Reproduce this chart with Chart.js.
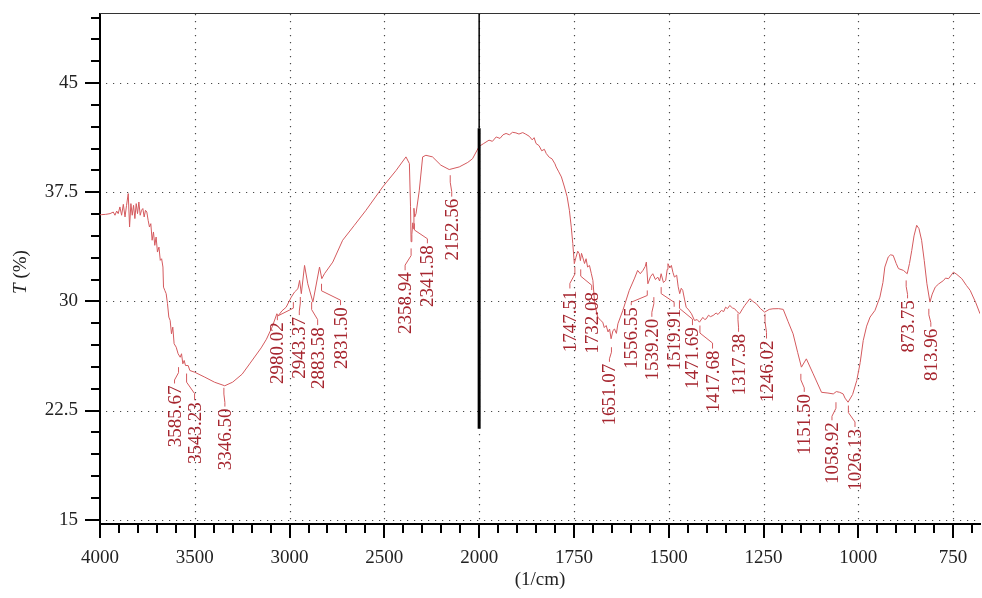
<!DOCTYPE html>
<html><head><meta charset="utf-8">
<script src="https://cdn.jsdelivr.net/npm/chart.js@4.4.0/dist/chart.umd.min.js"></script>
<style>html,body{margin:0;padding:0;background:#fff;}#wrap{width:982px;height:598px;}</style>
</head><body><div id="wrap"><canvas id="c" width="982" height="598"></canvas></div>
<script>
// ---------- data ----------
const wavenumbers = [
4000,3991,3970,3947,3930,3921,3912,3904,3895,3886,3877,3868,3860,3851,3844,3837,3830,3823,3816,3809,
3802,3795,3788,3781,3774,3767,3760,3753,3746,3739,3732,3725,3718,3711,3704,3697,3689,3682,3675,3668,
3665,3658,3651,3644,3637,3630,3623,3616,3609,3598,3588,3577,3570,3563,3556,3549,3535,3526,3500,3447,
3395,3342,3300,3250,3211,3150,3122,3090,3067,3061,3040,3018,2991,2974,2956,2947,2938,2921,2904,2877,
2842,2830,2816,2772,2720,2660,2597,2509,2438,2386,2368,2362,2359,2355,2350,2347,2344,2340,2333,2316,
2298,2281,2246,2202,2158,2105,2060,2035,2000,
1988,1974,1965,1955,1945,1937,1929,1920,1912,1903,1895,1885,1877,1868,1860,1855,1850,1842,1835,1828,
1823,1815,1808,1800,1797,1790,1783,1775,1768,1762,1757,1753,1749,1745,1740,1736,1733,1730,1727,1722,
1718,1714,1709,1704,1700,1696,1690,1687,1680,1674,1670,1665,1660,1656,1652,1647,1643,1638,1634,1621,
1604,1590,1582,1575,1568,1562,1559,1555,1548,1542,1535,1529,1524,1520,1514,1508,1504,1502,1497,1493,
1489,1485,1479,1475,1471,1467,1463,1458,1454,1447,1440,1432,1425,1419,1410,1405,1401,1395,1390,1383,
1375,1370,1361,1355,1350,1345,1339,1332,1326,1320,1313,1305,1300,1286,1278,1269,1258,1247,1235,1225,
1210,1198,1185,1172,1160,1150,1137,1119,1097,1080,1066,1058,1049,1040,1035,1027,1015,1004,995,987,
978,969,956,943,935,930,921,915,908,900,894,881,871,865,859,853,846,840,833,826,
819,811,805,797,788,775,770,762,755,749,740,727,715,705,690,679];
const transmittance = [
35.95,35.96,35.98,36.03,36.14,35.92,36.21,36.03,36.49,35.92,36.67,35.8,36.6,37.41,35.11,36.72,35.92,36.6,35.69,36.72,
36.03,36.83,35.92,36.26,36.38,35.8,36.26,36.14,35.57,35.11,35.34,34.2,34.77,33.85,34.42,33.39,33.73,32.82,32.93,32.36,
30.98,30.75,30.53,29.84,28.92,28.69,27.77,28.23,27.09,26.85,26.4,26.16,26.4,25.71,25.94,25.59,25.59,25.25,25.13,24.79,
24.44,24.2,24.45,25.0,25.7,26.8,27.4,28.3,29.15,29.0,29.35,29.6,30.29,30.64,30.87,31.44,30.53,32.47,31.21,29.95,
32.36,31.56,31.9,32.7,34.2,35.2,36.26,37.86,39.0,39.93,39.47,36.5,34.1,34.6,35.4,35.0,36.4,35.8,36.03,37.6,
39.93,40.04,39.93,39.36,39.06,39.24,39.55,39.8,40.65,
40.85,41.08,41.0,41.3,41.2,41.45,41.54,41.45,41.62,41.58,41.5,41.6,41.49,41.35,41.1,41.25,40.85,40.7,40.35,40.45,
40.16,39.9,39.8,39.45,39.24,38.9,38.55,37.86,37.2,36.26,35.1,33.97,32.59,33.0,33.45,33.28,32.8,33.3,33.05,32.6,
32.93,32.36,32.47,31.9,31.44,30.07,29.2,28.92,28.7,28.57,28.2,28.34,27.9,28.1,27.43,28.0,28.1,27.8,28.46,29.38,
30.76,31.6,32.13,31.9,32.13,32.4,32.7,31.21,31.7,31.9,31.5,31.67,31.4,31.9,31.3,31.44,32.2,32.59,32.3,32.47,
32.0,31.67,31.8,31.0,30.53,30.9,30.76,30.1,29.6,29.4,29.15,28.69,28.75,28.57,28.9,28.75,28.8,29.05,28.95,29.03,
29.2,29.1,29.38,29.3,29.6,29.5,29.72,29.55,29.49,29.3,29.15,29.5,29.7,30.18,30.0,29.84,29.5,29.26,29.45,29.49,
29.5,29.45,28.6,27.77,26.5,25.48,26.05,25.02,23.75,23.7,23.64,23.8,23.75,23.64,23.35,23.07,23.6,24.56,25.8,27.31,
28.3,28.92,29.38,30.29,31.3,32.36,33.05,33.2,33.16,32.6,32.25,32.13,31.9,32.6,33.5,34.5,35.23,35.0,34.2,32.8,
31.21,29.95,30.5,30.98,31.2,31.44,31.6,31.56,31.8,32.01,31.85,31.56,31.1,30.76,29.9,29.15];

const peakLabels = ['3585.67','3543.23','3346.50','2980.02','2943.37','2883.58','2831.50','2358.94','2341.58','2152.56',
'1747.51','1732.08','1651.07','1556.55','1539.20','1519.91','1471.69','1417.68','1317.38','1246.02',
'1151.50','1058.92','1026.13','873.75','813.96'];
const peakWavenumbers = peakLabels.map(Number);

const xTickLabels = [4000,3500,3000,2500,2000,1750,1500,1250,1000,750];
const yTickLabels = [15,22.5,30,37.5,45];
const X_MIN = 679, X_MAX = 4000, Y_MIN = 14.7, Y_MAX = 49.75;
const BREAK_AT = 2000;

// ---------- label layout (leader top T, text top T, text x offset px) ----------
const labelLayout = [
[25.48,24.22,-4],[25.04,23.07,8],[24.06,22.63,1],[29.95,28.57,-16],[30.3,28.92,-1],[29.95,28.23,6],[31.21,29.6,19],
[33.64,32.0,-6],[35.36,33.85,13],[38.67,37.06,1.5],[32.36,30.75,-5],[32.2,30.64,11],[26.85,25.71,-2],[30.75,29.6,-16],
[30.29,28.8,-2],[30.98,29.49,13],[30.07,28.23,13],[28.34,26.62,12.6],[29.15,27.77,0.6],[29.15,27.31,1.5],
[25.02,23.64,3.4],[23.07,21.69,-4],[22.84,21.23,6.6],[31.44,30.07,1.4],[29.49,28.12,2]];

// ---------- broken (two-resolution) wavenumber axis ----------
class BrokenAxis extends Chart.LinearScale {
  _tf(v){ return v >= BREAK_AT ? BREAK_AT + (v - BREAK_AT) / 2 : v; }
  _itf(t){ return t >= BREAK_AT ? BREAK_AT + (t - BREAK_AT) * 2 : t; }
  getPixelForValue(value){
    const a = this._tf(this.max), b = this._tf(this.min);
    return this.getPixelForDecimal((a - this._tf(value)) / (a - b));
  }
  getValueForPixel(pixel){
    const a = this._tf(this.max), b = this._tf(this.min);
    return this._itf(a - this.getDecimalForPixel(pixel) * (a - b));
  }
}
BrokenAxis.id = 'broken';
BrokenAxis.defaults = Chart.LinearScale.defaults;
Chart.register(BrokenAxis);

const SERIF = '"Liberation Serif", "DejaVu Serif", serif';
const TEXT_RED = '#a6262f';
const LINE_RED = '#d45a5e';

const minorX = [];
for (let v = 4000; v >= 2000; v -= 100) minorX.push(v);
for (let v = 1950; v >= 700; v -= 50) minorX.push(v);
const minorY = [];
for (let v = 15; v <= 49.6; v += 1.5) minorY.push(+v.toFixed(2));

const decor = {
  id: 'decor',
  beforeDatasetsDraw(chart){
    const {ctx, chartArea: a, scales: {x, y}} = chart;
    ctx.save();
    ctx.strokeStyle = '#4a4a4a'; ctx.lineWidth = 1.2; ctx.setLineDash([1.2, 5.8]);
    xTickLabels.slice(1).forEach(v => {
      const px = Math.round(x.getPixelForValue(v)) + 0.5;
      ctx.beginPath(); ctx.moveTo(px, a.top); ctx.lineTo(px, a.bottom); ctx.stroke();
    });
    yTickLabels.forEach(v => {
      const py = Math.round(y.getPixelForValue(v)) + 0.5;
      ctx.beginPath(); ctx.moveTo(a.left + 6, py); ctx.lineTo(a.right, py); ctx.stroke();
    });
    ctx.setLineDash([]);
    ctx.strokeStyle = '#333'; ctx.lineWidth = 1;
    ctx.beginPath(); ctx.moveTo(a.left, a.top - 0.5); ctx.lineTo(a.right, a.top - 0.5); ctx.stroke();
    ctx.restore();
  },
  afterDatasetsDraw(chart){
    const {ctx, chartArea: a, scales: {x, y}} = chart;
    ctx.save();
    const bx = x.getPixelForValue(BREAK_AT);
    ctx.strokeStyle = '#000';
    ctx.lineWidth = 1.5;
    ctx.beginPath(); ctx.moveTo(bx, a.top); ctx.lineTo(bx, y.getPixelForValue(41.9)); ctx.stroke();
    ctx.lineWidth = 3;
    ctx.beginPath(); ctx.moveTo(bx, y.getPixelForValue(41.9)); ctx.lineTo(bx, y.getPixelForValue(21.25)); ctx.stroke();
    ctx.font = '19px ' + SERIF;
    peakLabels.forEach((txt, i) => {
      const [tTop, tText, dx] = labelLayout[i];
      const px = x.getPixelForValue(peakWavenumbers[i]);
      const yTop = y.getPixelForValue(tTop), yText = y.getPixelForValue(tText);
      const tx = px + dx;
      const span = yText - yTop;
      ctx.strokeStyle = LINE_RED; ctx.lineWidth = 1;
      ctx.beginPath();
      ctx.moveTo(px, yTop);
      ctx.lineTo(px, yTop + span * 0.3);
      ctx.lineTo(tx, yText - span * 0.3);
      ctx.lineTo(tx, yText - 2);
      ctx.stroke();
      ctx.save();
      ctx.translate(tx, yText);
      ctx.rotate(-Math.PI / 2);
      ctx.fillStyle = TEXT_RED;
      ctx.textAlign = 'right'; ctx.textBaseline = 'middle';
      ctx.fillText(txt, 0, 1);
      ctx.restore();
    });
    ctx.restore();
  },
  afterDraw(chart){
    const {ctx, chartArea: a, scales: {x, y}} = chart;
    ctx.save();
    ctx.strokeStyle = '#000'; ctx.lineWidth = 2;
    minorX.forEach(v => {
      const px = Math.round(x.getPixelForValue(v));
      const len = xTickLabels.includes(v) ? 14 : 9;
      ctx.beginPath(); ctx.moveTo(px, a.bottom); ctx.lineTo(px, a.bottom + len); ctx.stroke();
    });
    minorY.forEach(v => {
      const py = Math.round(y.getPixelForValue(v));
      const len = yTickLabels.includes(v) ? 15 : 9;
      ctx.beginPath(); ctx.moveTo(a.left, py); ctx.lineTo(a.left - len, py); ctx.stroke();
    });
    ctx.fillStyle = '#222';
    ctx.font = '19px ' + SERIF;
    ctx.textAlign = 'center'; ctx.textBaseline = 'middle';
    ctx.fillText('(1/cm)', (a.left + a.right) / 2, 580);
    ctx.translate(21, (a.top + a.bottom) / 2 + 3);
    ctx.rotate(-Math.PI / 2);
    const itF = 'italic 19px ' + SERIF, nF = '19px ' + SERIF;
    ctx.font = itF; const w1 = ctx.measureText('T').width;
    ctx.font = nF; const w2 = ctx.measureText(' (%)').width;
    const start = -(w1 + w2) / 2;
    ctx.textAlign = 'left';
    ctx.font = itF; ctx.fillText('T', start, 0);
    ctx.font = nF; ctx.fillText(' (%)', start + w1, 0);
    ctx.restore();
  }
};

new Chart(document.getElementById('c'), {
  type: 'line',
  data: {
    datasets: [{
      data: wavenumbers.map((w, i) => ({x: w, y: transmittance[i]})),
      borderColor: LINE_RED, borderWidth: 1, pointRadius: 0, tension: 0, fill: false
    }]
  },
  options: {
    responsive: false, animation: false,
    layout: {padding: {top: 14, right: 2, left: 0, bottom: 0}},
    plugins: {legend: {display: false}, tooltip: {enabled: false}},
    scales: {
      x: {
        type: 'broken', min: X_MIN, max: X_MAX,
        afterBuildTicks: s => { s.ticks = xTickLabels.map(v => ({value: v})); },
        afterFit: s => { s.height = 74; s.paddingLeft = 0; s.paddingRight = 0; s.paddingTop = 0; s.paddingBottom = 0; },
        grid: {display: false, drawTicks: false},
        border: {display: true, color: '#000', width: 2},
        ticks: {autoSkip: false, maxRotation: 0, padding: 23, color: '#222',
          font: {family: SERIF, size: 19}, callback: v => String(v)}
      },
      y: {
        type: 'linear', min: Y_MIN, max: Y_MAX,
        afterBuildTicks: s => { s.ticks = yTickLabels.map(v => ({value: v})); },
        afterFit: s => { s.width = 100; s.paddingLeft = 0; s.paddingRight = 0; s.paddingTop = 0; s.paddingBottom = 0; },
        grid: {display: false, drawTicks: false},
        border: {display: true, color: '#000', width: 2},
        ticks: {autoSkip: false, padding: 22, color: '#222',
          font: {family: SERIF, size: 19}, callback: v => String(v)}
      }
    }
  },
  plugins: [decor]
});
</script></body></html>
